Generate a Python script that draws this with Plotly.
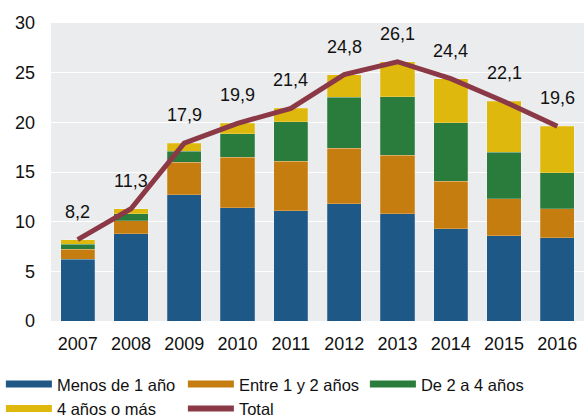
import plotly.graph_objects as go

years = ["2007", "2008", "2009", "2010", "2011", "2012", "2013", "2014", "2015", "2016"]
menos_1 = [6.2, 8.8, 12.7, 11.4, 11.1, 11.8, 10.8, 9.3, 8.6, 8.4]
entre_1_2 = [1.0, 1.3, 3.3, 5.1, 5.0, 5.6, 5.9, 4.75, 3.7, 2.9]
de_2_4 = [0.55, 0.7, 1.1, 2.35, 3.95, 5.15, 5.9, 5.9, 4.7, 3.6]
mas_4 = [0.45, 0.5, 0.8, 1.05, 1.35, 2.25, 3.5, 4.45, 5.1, 4.7]
total = [8.2, 11.3, 17.9, 19.9, 21.4, 24.8, 26.1, 24.4, 22.1, 19.6]
total_labels = ["8,2", "11,3", "17,9", "19,9", "21,4", "24,8", "26,1", "24,4", "22,1", "19,6"]
y_ticks = [0, 5, 10, 15, 20, 25, 30]

series = [
    ("Menos de 1 año", menos_1, "#1e5886"),
    ("Entre 1 y 2 años", entre_1_2, "#c67d10"),
    ("De 2 a 4 años", de_2_4, "#2a7c3c"),
    ("4 años o más", mas_4, "#dfb80e"),
]
line_color = "#8b3946"
font = "Liberation Sans, Arial, sans-serif"

fig = go.Figure()
for name, vals, col in series:
    fig.add_trace(go.Bar(x=years, y=vals, name=name,
                         marker=dict(color=col, line=dict(width=0.6, color="rgba(255,255,255,0.35)")),
                         showlegend=False, hoverinfo="y"))
fig.add_trace(go.Scatter(x=years, y=total, mode="lines", line=dict(color=line_color, width=5),
                         name="Total", showlegend=False))
# legend entries
for name, vals, col in series:
    fig.add_trace(go.Scatter(x=[years[0]], y=[None], mode="lines", line=dict(color=col, width=7), name=name))
fig.add_trace(go.Scatter(x=[years[0]], y=[None], mode="lines", line=dict(color=line_color, width=6), name="Total"))

for i, (v, lab) in enumerate(zip(total, total_labels)):
    fig.add_annotation(x=i, y=v, text=lab, showarrow=False, yshift=28,
                       font=dict(size=18, color="#111111", family=font))

fig.update_layout(
    width=588, height=415,
    margin=dict(l=51, r=4, t=23, b=94, autoexpand=False),
    barmode="stack", bargap=0.36,
    plot_bgcolor="#ebecee", paper_bgcolor="#ffffff",
    font=dict(family=font, size=18, color="#111111"),
    xaxis=dict(type="category", categoryorder="array", categoryarray=years, range=[-0.5, 9.5],
               showgrid=False, ticks="", tickfont=dict(size=18), ticklabelstandoff=10, fixedrange=True),
    yaxis=dict(range=[0, 30], tickvals=y_ticks, gridcolor="#ffffff", gridwidth=1,
               zeroline=False, tickfont=dict(size=18), ticks="", ticklabelstandoff=15, fixedrange=True),
    legend=dict(orientation="h", xref="paper", yref="paper", x=-0.094, y=-0.154,
                xanchor="left", yanchor="top", entrywidth=121, font=dict(size=16.5, family=font),
                itemwidth=46, traceorder="normal", tracegroupgap=0, bgcolor="rgba(0,0,0,0)"),
    showlegend=True,
)
fig.write_html("out.html", config={"displayModeBar": False},
               post_script="document.body.style.margin='0';")
